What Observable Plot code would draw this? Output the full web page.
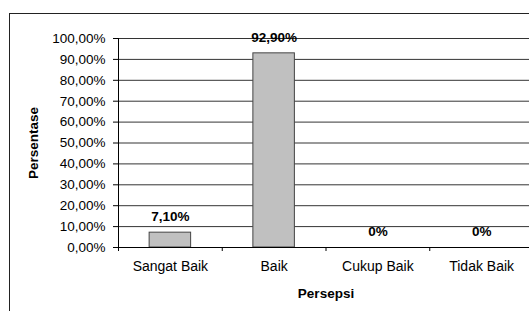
<!DOCTYPE html>
<html>
<head>
<meta charset="utf-8">
<script src="https://cdn.jsdelivr.net/npm/d3@7"></script>
<script src="https://cdn.jsdelivr.net/npm/@observablehq/plot@0.6"></script>
<style>
  html, body { margin: 0; padding: 0; background: #fff; overflow: hidden; }
  #wrap { position: relative; width: 529px; height: 311px; overflow: hidden; }
  #border { position: absolute; left: 9px; top: 13px; width: 700px; height: 400px;
            border: 1.5px solid #222; pointer-events: none; box-sizing: border-box; }
  #chart { position: absolute; left: 0; top: 0; }
</style>
</head>
<body>
<div id="wrap"><div id="chart"></div><div id="border"></div></div>
<script>
const categories = ["Sangat Baik", "Baik", "Cukup Baik", "Tidak Baik"];
const values = [7.1, 92.9, 0, 0];
const valueLabels = ["7,10%", "92,90%", "0%", "0%"];
const yTicks = [0, 10, 20, 30, 40, 50, 60, 70, 80, 90, 100];
const xTitle = "Persepsi";
const yTitle = "Persentase";

const data = categories.map((c, i) => ({cat: c, i, value: values[i], label: valueLabels[i]}));
const fmtY = v => v.toFixed(2).replace(".", ",") + "%";

const chart = Plot.plot({
  width: 545,
  height: 311,
  marginLeft: 118,
  marginRight: 12,
  marginTop: 38,
  marginBottom: 64,
  style: {fontFamily: "'Liberation Sans', Arial, sans-serif", fontSize: "13.5px", color: "#000", maxWidth: "none", background: "transparent"},
  x: {domain: [0, categories.length], axis: null},
  y: {domain: [0, 100], axis: null},
  marks: [
    Plot.gridY(yTicks, {stroke: "#000", strokeOpacity: 0.8, strokeWidth: 1}),
    Plot.axisY({ticks: yTicks, tickFormat: fmtY, tickSize: 5, tickPadding: 8, label: null, stroke: "#000"}),
    Plot.axisX({ticks: d3.range(categories.length + 1), tickFormat: () => "", tickSize: 4, label: null}),
    Plot.axisX({ticks: categories.map((c, i) => i + 0.5), tickFormat: v => categories[Math.floor(v)], tickSize: 0, tickPadding: 14, label: null, fontSize: 14}),
    Plot.rectY(data, {x1: d => d.i + 0.3, x2: d => d.i + 0.7, y: "value", fill: "#C0C0C0", stroke: "#444", strokeWidth: 1}),
    Plot.ruleX([0], {y1: 0, y2: 100, stroke: "#000"}),
    Plot.ruleY([0], {stroke: "#000"}),
    Plot.text(data, {x: d => d.i + 0.5, y: "value", text: "label", fontWeight: "bold", fontSize: 13.5, lineAnchor: "bottom", dy: -11.5}),
    Plot.text([xTitle], {frameAnchor: "bottom", dy: 46, fontWeight: "bold", fontSize: 13.5, lineAnchor: "middle"}),
    Plot.text([yTitle], {frameAnchor: "left", dx: -85, rotate: -90, fontWeight: "bold", fontSize: 13.5, textAnchor: "middle", lineAnchor: "middle"})
  ]
});
document.getElementById("chart").appendChild(chart);
</script>
</body>
</html>
